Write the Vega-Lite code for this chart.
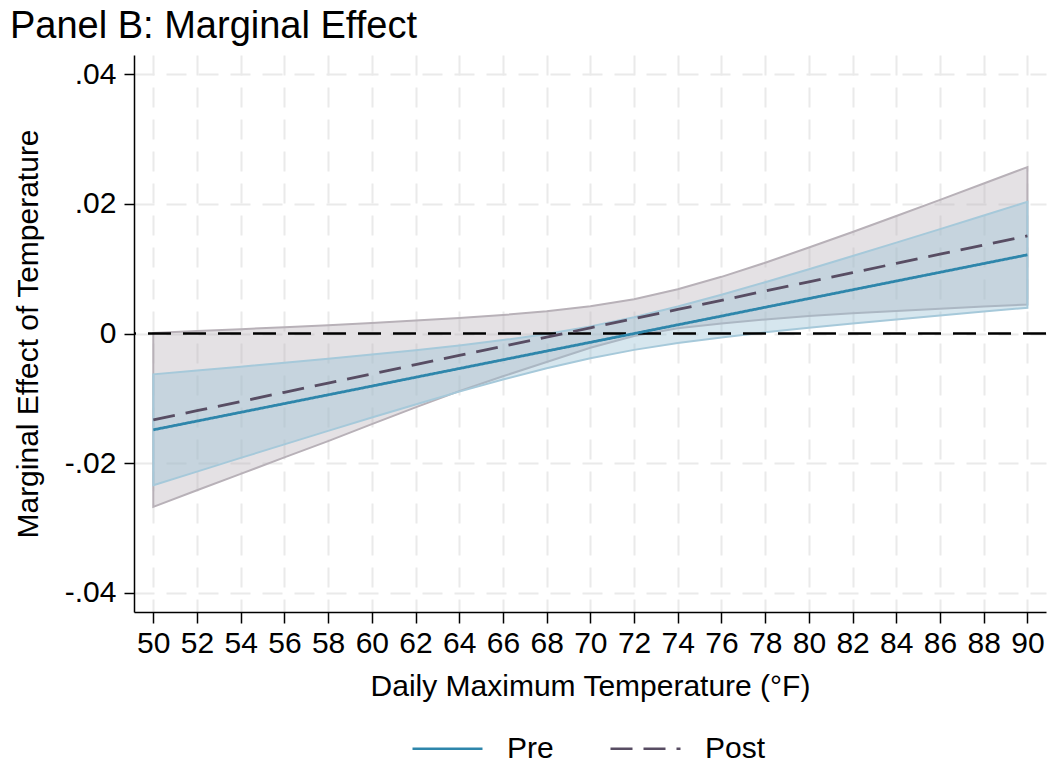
{
  "$schema": "https://vega.github.io/schema/vega-lite/v6.json",
  "width": 912,
  "height": 557,
  "autosize": {"type": "none"},
  "padding": {"left": 134, "top": 55, "right": 4, "bottom": 151},
  "background": "white",
  "title": {
    "text": "Panel B: Marginal Effect",
    "anchor": "start",
    "frame": "group",
    "dx": -124,
    "dy": 38,
    "offset": 17,
    "baseline": "alphabetic",
    "fontSize": 38,
    "font": "Liberation Sans",
    "fontWeight": "normal",
    "color": "black"
  },
  "config": {
    "view": {"stroke": null},
    "font": "Liberation Sans",
    "axis": {
      "labelFont": "Liberation Sans",
      "titleFont": "Liberation Sans",
      "labelFontSize": 30,
      "titleFontSize": 30,
      "labelColor": "black",
      "titleColor": "black",
      "titleFontWeight": "normal",
      "domainColor": "black",
      "domainWidth": 1.5,
      "tickColor": "black",
      "tickWidth": 1.5,
      "grid": true,
      "gridColor": "#eaeaea",
      "gridWidth": 2,
      "gridDash": [20, 12],
      "labelFlush": false,
      "labelOverlap": false
    }
  },
  "data": {
    "values": [
      {"temp": 50, "group": "Pre", "me": -0.01487, "lo": -0.02343, "hi": -0.00631},
      {"temp": 52, "group": "Pre", "me": -0.01352, "lo": -0.02132, "hi": -0.00573},
      {"temp": 54, "group": "Pre", "me": -0.01217, "lo": -0.01921, "hi": -0.00513},
      {"temp": 56, "group": "Pre", "me": -0.01082, "lo": -0.01712, "hi": -0.00452},
      {"temp": 58, "group": "Pre", "me": -0.00947, "lo": -0.01504, "hi": -0.00390},
      {"temp": 60, "group": "Pre", "me": -0.00812, "lo": -0.01298, "hi": -0.00326},
      {"temp": 62, "group": "Pre", "me": -0.00676, "lo": -0.01095, "hi": -0.00257},
      {"temp": 64, "group": "Pre", "me": -0.00541, "lo": -0.00898, "hi": -0.00184},
      {"temp": 66, "group": "Pre", "me": -0.00406, "lo": -0.00710, "hi": -0.00102},
      {"temp": 68, "group": "Pre", "me": -0.00271, "lo": -0.00536, "hi": -0.00006},
      {"temp": 70, "group": "Pre", "me": -0.00136, "lo": -0.00382, "hi": 0.00110},
      {"temp": 72, "group": "Pre", "me": -0.00001, "lo": -0.00253, "hi": 0.00251},
      {"temp": 74, "group": "Pre", "me": 0.00134, "lo": -0.00148, "hi": 0.00416},
      {"temp": 76, "group": "Pre", "me": 0.00269, "lo": -0.00060, "hi": 0.00598},
      {"temp": 78, "group": "Pre", "me": 0.00405, "lo": 0.00018, "hi": 0.00792},
      {"temp": 80, "group": "Pre", "me": 0.00540, "lo": 0.00088, "hi": 0.00992},
      {"temp": 82, "group": "Pre", "me": 0.00675, "lo": 0.00154, "hi": 0.01196},
      {"temp": 84, "group": "Pre", "me": 0.00810, "lo": 0.00217, "hi": 0.01403},
      {"temp": 86, "group": "Pre", "me": 0.00945, "lo": 0.00278, "hi": 0.01612},
      {"temp": 88, "group": "Pre", "me": 0.01080, "lo": 0.00338, "hi": 0.01822},
      {"temp": 90, "group": "Pre", "me": 0.01215, "lo": 0.00397, "hi": 0.02033},
      {"temp": 50, "group": "Post", "me": -0.01334, "lo": -0.02676, "hi": 0.00008},
      {"temp": 52, "group": "Post", "me": -0.01192, "lo": -0.02421, "hi": 0.00037},
      {"temp": 54, "group": "Post", "me": -0.01050, "lo": -0.02167, "hi": 0.00067},
      {"temp": 56, "group": "Post", "me": -0.00908, "lo": -0.01913, "hi": 0.00097},
      {"temp": 58, "group": "Post", "me": -0.00766, "lo": -0.01661, "hi": 0.00129},
      {"temp": 60, "group": "Post", "me": -0.00624, "lo": -0.01400, "hi": 0.00162},
      {"temp": 62, "group": "Post", "me": -0.00481, "lo": -0.01140, "hi": 0.00199},
      {"temp": 64, "group": "Post", "me": -0.00339, "lo": -0.00890, "hi": 0.00239},
      {"temp": 66, "group": "Post", "me": -0.00197, "lo": -0.00660, "hi": 0.00285},
      {"temp": 68, "group": "Post", "me": -0.00055, "lo": -0.00440, "hi": 0.00343},
      {"temp": 70, "group": "Post", "me": 0.00087, "lo": -0.00220, "hi": 0.00420},
      {"temp": 72, "group": "Post", "me": 0.00229, "lo": -0.00040, "hi": 0.00530},
      {"temp": 74, "group": "Post", "me": 0.00371, "lo": 0.00080, "hi": 0.00683},
      {"temp": 76, "group": "Post", "me": 0.00513, "lo": 0.00155, "hi": 0.00875},
      {"temp": 78, "group": "Post", "me": 0.00655, "lo": 0.00217, "hi": 0.01093},
      {"temp": 80, "group": "Post", "me": 0.00798, "lo": 0.00269, "hi": 0.01327},
      {"temp": 82, "group": "Post", "me": 0.00940, "lo": 0.00312, "hi": 0.01568},
      {"temp": 84, "group": "Post", "me": 0.01082, "lo": 0.00349, "hi": 0.01815},
      {"temp": 86, "group": "Post", "me": 0.01224, "lo": 0.00384, "hi": 0.02064},
      {"temp": 88, "group": "Post", "me": 0.01366, "lo": 0.00416, "hi": 0.02316},
      {"temp": 90, "group": "Post", "me": 0.01508, "lo": 0.00447, "hi": 0.02569}
    ]
  },
  "layer": [
    {
      "transform": [{"filter": "datum.group == 'Post'"}],
      "mark": {"type": "area", "fill": "#bbb4bb", "fillOpacity": 0.4, "stroke": "#b8b1b8", "strokeWidth": 2},
      "encoding": {
        "x": {
          "field": "temp",
          "type": "quantitative",
          "scale": {"domain": [49.117, 90.85], "nice": false, "zero": false},
          "axis": {
            "values": [50, 52, 54, 56, 58, 60, 62, 64, 66, 68, 70, 72, 74, 76, 78, 80, 82, 84, 86, 88, 90],
            "tickSize": 11,
            "labelPadding": 5,
            "titlePadding": 13
          },
          "title": "Daily Maximum Temperature (°F)"
        },
        "y": {
          "field": "lo",
          "type": "quantitative",
          "scale": {"domain": [-0.043, 0.043], "nice": false, "zero": false},
          "axis": {
            "values": [-0.04, -0.02, 0, 0.02, 0.04],
            "labelExpr": "datum.value == 0 ? '0' : (datum.value < 0 ? '-' : '') + '.0' + toString(round(abs(datum.value) * 100))",
            "tickSize": 10,
            "labelPadding": 8,
            "titleX": -97,
            "titleY": 278.5,
            "titleAngle": 270,
            "titleAlign": "center",
            "titleBaseline": "alphabetic"
          },
          "title": "Marginal Effect of Temperature"
        },
        "y2": {"field": "hi"}
      }
    },
    {
      "transform": [{"filter": "datum.group == 'Pre'"}],
      "mark": {"type": "area", "fill": "#98c0d4", "fillOpacity": 0.4, "stroke": "#a6c9da", "strokeWidth": 2},
      "encoding": {
        "x": {"field": "temp", "type": "quantitative"},
        "y": {"field": "lo", "type": "quantitative"},
        "y2": {"field": "hi"}
      }
    },
    {
      "data": {"values": [{"level": 0}]},
      "mark": {"type": "rule", "color": "black", "strokeWidth": 2.5, "strokeDash": [23, 12]},
      "encoding": {"y": {"field": "level", "type": "quantitative"}}
    },
    {
      "mark": {"type": "line", "strokeWidth": 2.8},
      "encoding": {
        "x": {"field": "temp", "type": "quantitative"},
        "y": {"field": "me", "type": "quantitative"},
        "color": {
          "field": "group",
          "type": "nominal",
          "scale": {"domain": ["Pre", "Post"], "range": ["#2e86ab", "#584d63"]},
          "legend": {
            "title": null,
            "orient": "none",
            "legendX": 277,
            "legendY": 657,
            "direction": "horizontal",
            "symbolType": "stroke",
            "symbolSize": 4900,
            "symbolStrokeWidth": 2.5,
            "labelFontSize": 30,
            "labelFont": "Liberation Sans",
            "labelColor": "black",
            "labelOffset": 23,
            "columnPadding": 51,
            "padding": 0
          }
        },
        "strokeDash": {
          "field": "group",
          "type": "nominal",
          "scale": {"domain": ["Pre", "Post"], "range": [[1, 0], [22, 11]]},
          "legend": {
            "title": null,
            "orient": "none",
            "legendX": 277,
            "legendY": 657,
            "direction": "horizontal",
            "symbolType": "stroke",
            "symbolSize": 4900,
            "symbolStrokeWidth": 2.5,
            "labelFontSize": 30,
            "labelFont": "Liberation Sans",
            "labelColor": "black",
            "labelOffset": 23,
            "columnPadding": 51,
            "padding": 0
          }
        }
      }
    }
  ]
}
